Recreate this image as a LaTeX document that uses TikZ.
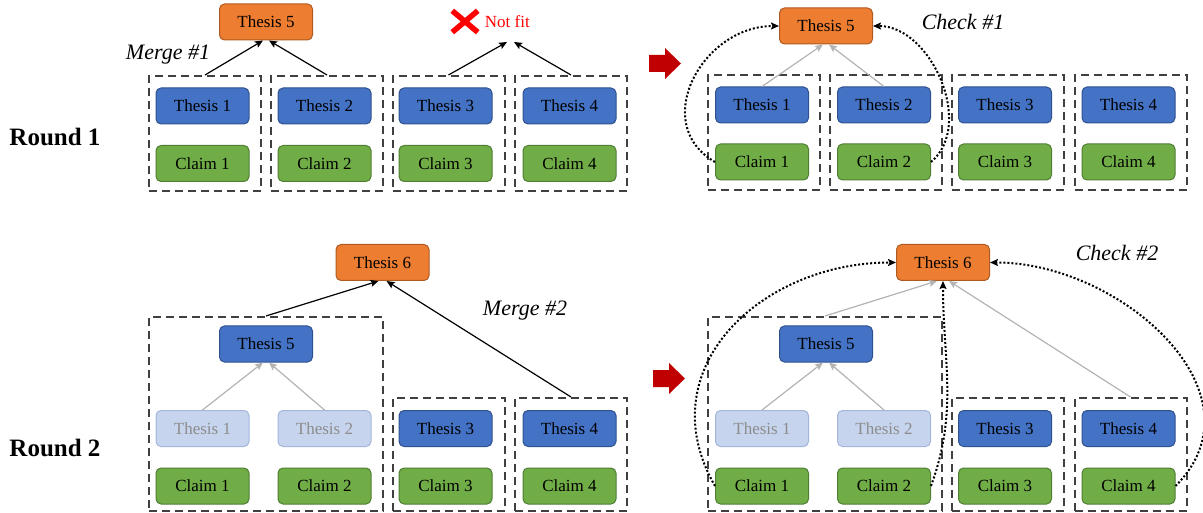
\documentclass[tikz,border=0pt]{standalone}
\usepackage{fontspec}
\setmainfont{Liberation Serif}
\usepackage{tikz}
\usetikzlibrary{arrows.meta,%
                shapes.misc,positioning}

\definecolor{thblue}{HTML}{4472C4}
\definecolor{thblueline}{HTML}{2F528F}
\definecolor{clgreen}{HTML}{70AD47}
\definecolor{clgreenline}{HTML}{507E32}
\definecolor{orfill}{HTML}{ED7D31}
\definecolor{orline}{HTML}{AE5A21}
\definecolor{fadefill}{HTML}{C7D4ED}
\definecolor{fadeline}{HTML}{A3B5DA}
\definecolor{fadetext}{HTML}{8C8C8C}
\definecolor{grpline}{HTML}{404040}
\definecolor{linkgrey}{HTML}{B4B4B4}
\definecolor{gored}{HTML}{C00000}

\newcommand{\boxfont}{\fontsize{17}{20}\selectfont}

\tikzset{
  thbox/.style={rounded corners=5pt, line width=1pt, minimum width=93pt,
                minimum height=36pt, inner sep=0pt, font=\boxfont},
  thesis/.style={thbox, draw=thblueline, fill=thblue},
  claim/.style={thbox, draw=clgreenline, fill=clgreen},
  merged/.style={thbox, draw=orline, fill=orfill},
  faded/.style={thbox, draw=fadeline, fill=fadefill, text=fadetext},
  grpbox/.style={draw=grpline, line width=2pt, dash pattern=on 8pt off 5pt, inner sep=0pt},
  link/.style={-{Stealth[length=8pt,width=7pt,inset=1.5pt]}, line width=1.2pt},
  greylink/.style={link, draw=linkgrey, fill=linkgrey},
  checklink/.style={-{Stealth[length=8pt,width=7pt,inset=1.5pt]}, line width=2pt,
                    dash pattern=on 2pt off 2pt},
  note/.style={font=\fontsize{22}{26}\selectfont\itshape},
  roundlab/.style={font=\fontsize{25}{30}\selectfont\bfseries},
}

\begin{document}
\begin{tikzpicture}[x=1pt,y=-1pt]
\useasboundingbox (0,0) rectangle (1203,513);

\node[roundlab] (r1) at (55,137) {Round 1};
\node[roundlab] (r2) at (55,448) {Round 2};

% round 1, merge
\node[merged] (a5) at (266,22) {Thesis 5};
\node[thesis] (a1) at (202.5,106) {Thesis 1};
\node[thesis] (a2) at (324.5,106) {Thesis 2};
\node[thesis] (a3) at (445.5,106) {Thesis 3};
\node[thesis] (a4) at (569.5,106) {Thesis 4};
\node[claim] (ac1) at (202.5,163.5) {Claim 1};
\node[claim] (ac2) at (324.5,163.5) {Claim 2};
\node[claim] (ac3) at (445.5,163.5) {Claim 3};
\node[claim] (ac4) at (569.5,163.5) {Claim 4};
\node[grpbox, minimum width=112pt, minimum height=115pt] (ag1) at (205,133.5) {};
\node[grpbox, minimum width=112pt, minimum height=115pt] (ag2) at (327,133.5) {};
\node[grpbox, minimum width=112pt, minimum height=115pt] (ag3) at (448.5,133.5) {};
\node[grpbox, minimum width=112pt, minimum height=115pt] (ag4) at (571,133.5) {};
\node[note] (m1) at (168,55) {Merge \#1};
\draw[link] (ag1.north) -- ([xshift=-3pt]a5.south);
\draw[link] (ag2.north) -- ([xshift=3pt]a5.south);

\node[cross out, draw=red, line width=5.5pt, minimum width=20pt, minimum height=16pt,
      inner sep=0pt] (nox) at (465,21.5) {};
\node[right=7pt of nox, text=red, font=\boxfont, inner sep=0pt] (nofit) {Not fit};
\coordinate (nf) at (510.5,42);
\draw[link] (ag3.north) -- ([xshift=-3.5pt]nf);
\draw[link] (ag4.north) -- ([xshift=3.5pt]nf);

\fill[gored] (649,55) -- (665,55) -- (665,48) -- (681,63.5) -- (665,79) -- (665,72)
  -- (649,72) -- cycle;

% round 1, check
\node[merged] (b5) at (826,26) {Thesis 5};
\node[thesis] (b1) at (762,105) {Thesis 1};
\node[thesis] (b2) at (884,105) {Thesis 2};
\node[thesis] (b3) at (1005,105) {Thesis 3};
\node[thesis] (b4) at (1128.5,105) {Thesis 4};
\node[claim] (bc1) at (762,162) {Claim 1};
\node[claim] (bc2) at (884,162) {Claim 2};
\node[claim] (bc3) at (1005,162) {Claim 3};
\node[claim] (bc4) at (1128.5,162) {Claim 4};
\node[grpbox, minimum width=112pt, minimum height=115pt] (bg1) at (764,132.5) {};
\node[grpbox, minimum width=112pt, minimum height=115pt] (bg2) at (886,132.5) {};
\node[grpbox, minimum width=112pt, minimum height=115pt] (bg3) at (1007.5,132.5) {};
\node[grpbox, minimum width=112pt, minimum height=115pt] (bg4) at (1130.5,132.5) {};
\node[note] (k1) at (963,22) {Check \#1};
\draw[greylink] (b1.north) -- ([xshift=-3pt]b5.south);
\draw[greylink] (b2.north) -- ([xshift=3pt]b5.south);
\draw[checklink] (bc1.west) to[out=150,in=180,looseness=1.3] (b5.west);
\draw[checklink] (bc2.east) to[out=40,in=0] (b5.east);

% round 2, merge
\node[merged] (c6) at (382.5,262.5) {Thesis 6};
\node[thesis] (c5) at (266,344) {Thesis 5};
\node[faded] (c1) at (202.5,428.5) {Thesis 1};
\node[faded] (c2) at (324.5,428.5) {Thesis 2};
\node[thesis] (c3) at (445.5,428.5) {Thesis 3};
\node[thesis] (c4) at (569.5,428.5) {Thesis 4};
\node[claim] (cc1) at (202.5,486) {Claim 1};
\node[claim] (cc2) at (324.5,486) {Claim 2};
\node[claim] (cc3) at (445.5,486) {Claim 3};
\node[claim] (cc4) at (569.5,486) {Claim 4};
\node[grpbox, minimum width=234pt, minimum height=194pt] (cg1) at (266,414) {};
\node[grpbox, minimum width=112pt, minimum height=113pt] (cg3) at (448.5,454.5) {};
\node[grpbox, minimum width=112pt, minimum height=113pt] (cg4) at (571,454.5) {};
\node[note] (m2) at (525,311) {Merge \#2};
\draw[greylink] (c1.north) -- ([xshift=-3pt]c5.south);
\draw[greylink] (c2.north) -- ([xshift=3pt]c5.south);
\draw[link] (cg1.north) -- ([xshift=-4pt]c6.south);
\draw[link] (cg4.north) -- ([xshift=4pt]c6.south);

\fill[gored] (653,370) -- (669,370) -- (669,363) -- (685,378.5) -- (669,394) -- (669,387)
  -- (653,387) -- cycle;

% round 2, check
\node[merged] (d6) at (943,262.5) {Thesis 6};
\node[thesis] (d5) at (826,344) {Thesis 5};
\node[faded] (d1) at (762,428.5) {Thesis 1};
\node[faded] (d2) at (884,428.5) {Thesis 2};
\node[thesis] (d3) at (1005,428.5) {Thesis 3};
\node[thesis] (d4) at (1128.5,428.5) {Thesis 4};
\node[claim] (dc1) at (762,486) {Claim 1};
\node[claim] (dc2) at (884,486) {Claim 2};
\node[claim] (dc3) at (1005,486) {Claim 3};
\node[claim] (dc4) at (1128.5,486) {Claim 4};
\node[grpbox, minimum width=234pt, minimum height=194pt] (dg1) at (825,414) {};
\node[grpbox, minimum width=112pt, minimum height=113pt] (dg3) at (1007.5,454.5) {};
\node[grpbox, minimum width=112pt, minimum height=113pt] (dg4) at (1130.5,454.5) {};
\node[note] (k2) at (1117,253) {Check \#2};
\draw[greylink] (d1.north) -- ([xshift=-3pt]d5.south);
\draw[greylink] (d2.north) -- ([xshift=3pt]d5.south);
\draw[greylink] (dg1.north) -- ([xshift=-6pt]d6.south);
\draw[greylink] (dg4.north) -- ([xshift=6pt]d6.south);
\draw[checklink] (dc1.west) to[out=120,in=180,looseness=1.2] (d6.west);
\draw[checklink] (dc2.east) to[out=70,in=-90] (d6.south);
\draw[checklink] (dc4.east) to[out=45,in=0,looseness=1.15] (d6.east);

\end{tikzpicture}
\end{document}
